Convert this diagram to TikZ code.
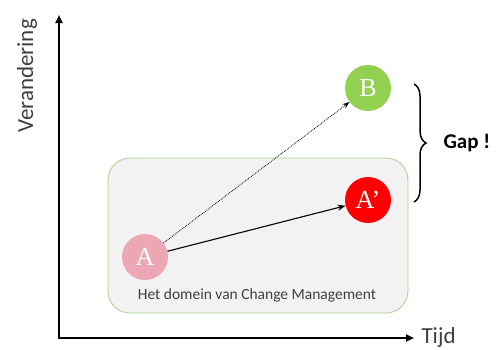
\documentclass[tikz,border=0pt]{standalone}
\usepackage{fontspec}
\setmainfont{Carlito}
\newfontfamily\ballfont{Liberation Serif}
\usetikzlibrary{arrows.meta,decorations.pathreplacing}
\definecolor{boxfill}{HTML}{F2F2F2}
\definecolor{boxline}{HTML}{A9D18E}
\definecolor{pinkA}{HTML}{EBA7B4}
\definecolor{redA}{HTML}{FF0000}
\definecolor{greenB}{HTML}{92D050}
\definecolor{txtgray}{HTML}{404040}
\tikzset{
  axis/.style={line width=2.2pt,-{Triangle[length=8pt,width=7pt]}},
  ball/.style={circle,minimum size=46pt,inner sep=0pt,text=white,font=\fontsize{26}{26}\selectfont\ballfont},
  axlabel/.style={font=\fontsize{23}{23}\selectfont,text=txtgray},
}
\begin{document}
\begin{tikzpicture}[x=1pt,y=-1pt]
\useasboundingbox (0,0) rectangle (496,349);
\node[draw=boxline,fill=boxfill,line width=0.8pt,rounded corners=22pt,minimum width=300pt,minimum height=155pt,inner sep=0pt] (dom) at (258,235.5) {};
\node[font=\fontsize{15.5}{16}\selectfont,text=txtgray] (domlbl) at (257,295) {Het domein van Change Management};
\coordinate (origin) at (59,338);
\coordinate (ytop) at (59,15);
\coordinate (xend) at (414,338);
\draw[axis,line cap=rect] (origin) -- (ytop);
\draw[axis] (origin) -- (xend);
\node[axlabel,anchor=west] (tijd) at (418,337) {Tijd};
\node[axlabel,rotate=90] (ver) at (27,76) {Verandering};
\node[ball,fill=pinkA] (A) at (145,257) {A};
\node[ball,fill=redA] (Ap) at (368,200) {A’};
\node[ball,fill=greenB] (B) at (368,88) {B};
\draw[line width=1.1pt,-{Stealth[length=8pt,width=6pt]}] (A) -- (Ap);
\draw[line width=0.8pt,densely dotted,-{Stealth[length=7pt,width=5pt]}] (A) -- (B);
\coordinate (brtop) at (414,84);
\coordinate (brbot) at (414,202);
\draw[line width=1.5pt,decorate,decoration={brace,amplitude=12pt}] (brtop) -- (brbot);
\node[font=\fontsize{21}{21}\selectfont\bfseries,anchor=west] (gap) at (440,143) {Gap !};
\end{tikzpicture}
\end{document}
